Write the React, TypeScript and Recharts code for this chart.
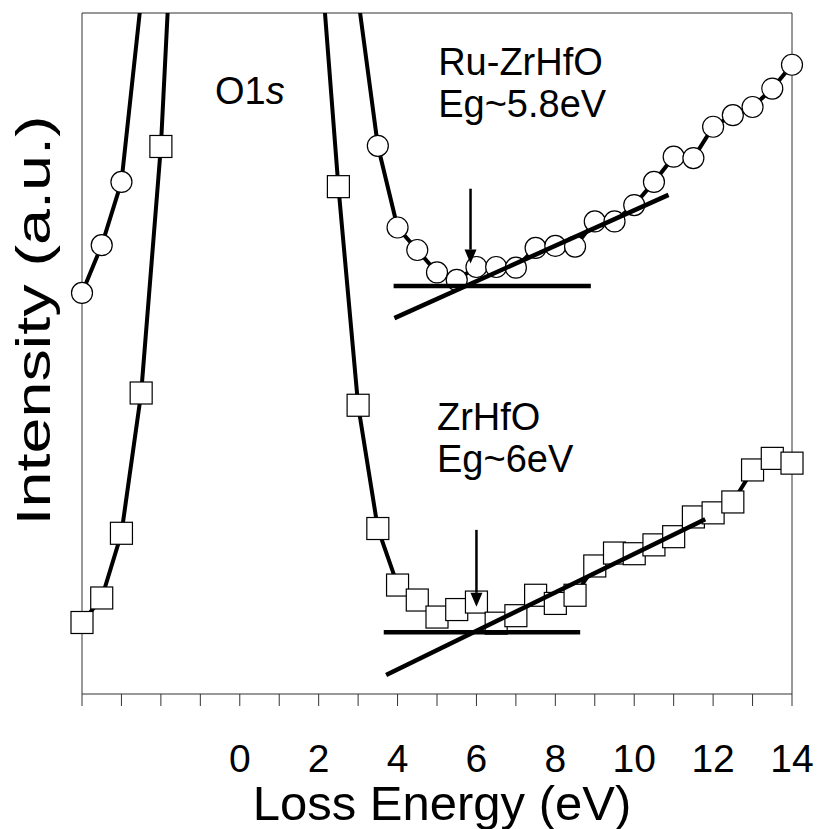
import React from "react";
import {
  ComposedChart,
  Line,
  Scatter,
  XAxis,
  YAxis,
  ReferenceLine,
  ReferenceDot,
  Label,
} from "recharts";

// loss energy (eV), one point every 0.5 eV
const energy = [
  -4, -3.5, -3, -2.5, -2, -1.5, -1, -0.5, 0, 0.5, 1, 1.5, 2, 2.5, 3, 3.5, 4,
  4.5, 5, 5.5, 6, 6.5, 7, 7.5, 8, 8.5, 9, 9.5, 10, 10.5, 11, 11.5, 12, 12.5,
  13, 13.5, 14,
];

// intensity (a.u.), the O1s peak runs far off the top of the frame
const ruZrHfO = [
  58.9, 65.9, 75.2, 102, 140, 220, 380, 600, 800, 720, 520, 330, 200, 130,
  102.2, 80.5, 68.5, 65.2, 61.9, 60.8, 62.7, 62.7, 62.6, 65.5, 65.8, 65.7,
  69.4, 69.4, 71.8, 75.2, 78.9, 78.7, 83.3, 85.0, 86.2, 88.9, 92.4,
];

const zrHfO = [
  10.5, 14.1, 23.6, 44.2, 80.4, 138, 300, 600, 900, 780, 480, 250, 112, 74.5,
  42.4, 24.3, 16.0, 13.8, 11.3, 12.4, 13.5, 10.4, 11.5, 14.5, 13.3, 14.5,
  18.8, 20.7, 20.6, 21.9, 23.1, 26.0, 26.6, 28.2, 32.9, 34.6, 33.9,
];

const xTicks = [-4, -3, -2, -1, 0, 1, 2, 3, 4, 5, 6, 7, 8, 9, 10, 11, 12, 13, 14];
const xTickLabels = [0, 2, 4, 6, 8, 10, 12, 14];

// band-gap construction lines
const ruFlat = [{ x: 3.9, y: 59.9 }, { x: 8.9, y: 59.9 }];
const ruSlope = [{ x: 3.92, y: 55.2 }, { x: 10.87, y: 73.3 }];
const ruArrow = [{ x: 5.85, y: 74.2 }, { x: 5.85, y: 63.2 }];
const zrFlat = [{ x: 3.65, y: 9.06 }, { x: 8.63, y: 9.06 }];
const zrSlope = [{ x: 3.71, y: 2.8 }, { x: 11.8, y: 25.65 }];
const zrArrow = [{ x: 6.0, y: 24.1 }, { x: 6.0, y: 12.8 }];

const notes = [
  { x: 5.03, y: 90.9, text: "Ru-ZrHfO" },
  { x: 5.03, y: 84.7, text: "Eg~5.8eV" },
  { x: 5.0, y: 38.8, text: "ZrHfO" },
  { x: 5.0, y: 32.6, text: "Eg~6eV" },
];
const o1sNote = { x: -0.63, y: 86.6 };

const font = "Arial, 'Liberation Sans', sans-serif";

const table = energy.map((e, i) => ({ e, ru: ruZrHfO[i], zr: zrHfO[i] }));
const ruMarks = table.filter((d) => d.ru <= 100).map((d) => ({ e: d.e, v: d.ru }));
const zrMarks = table.filter((d) => d.zr <= 100).map((d) => ({ e: d.e, v: d.zr }));

const circle = (p: any) => (
  <circle cx={p.cx} cy={p.cy} r={10.5} fill="#fff" stroke="#000" strokeWidth={1.2} />
);
const square = (p: any) => (
  <rect x={p.cx - 11} y={p.cy - 11} width={22} height={22} fill="#fff" stroke="#000" strokeWidth={1.2} />
);

const arrow = (p: any) => {
  const head = 14;
  return (
    <g>
      <line x1={p.x1} y1={p.y1} x2={p.x2} y2={p.y2 - head} stroke="#000" strokeWidth={2.5} />
      <polygon
        points={`${p.x2 - 6},${p.y2 - head} ${p.x2 + 6},${p.y2 - head} ${p.x2},${p.y2}`}
        fill="#000"
      />
    </g>
  );
};

const note = (text: string) => (p: any) => (
  <text x={p.cx} y={p.cy} fontSize={38} fontFamily={font} fill="#000">
    {text}
  </text>
);

const o1s = (p: any) => (
  <text x={p.cx} y={p.cy} fontSize={38} fontFamily={font} fill="#000">
    O1<tspan fontStyle="italic">s</tspan>
  </text>
);

const xLabel = (props: any) => {
  const vb = props.viewBox;
  return (
    <text
      x={vb.x + vb.width / 2 + 5}
      y={vb.y + 126}
      textAnchor="middle"
      fontSize={49}
      fontFamily={font}
      fill="#000"
    >
      Loss Energy (eV)
    </text>
  );
};

const yLabel = (props: any) => {
  const vb = props.viewBox;
  const x = vb.x + 42;
  const y = vb.y + vb.height / 2 - 33;
  return (
    <text
      x={x}
      y={y}
      transform={`rotate(-90 ${x} ${y})`}
      textAnchor="middle"
      fontSize={48}
      fontFamily={font}
      textLength={410}
      lengthAdjust="spacingAndGlyphs"
      fill="#000"
    >
      Intensity (a.u.)
    </text>
  );
};

export default function App() {
  return (
    <div style={{ position: "absolute", left: 0, top: 0 }}>
      <ComposedChart
        width={817}
        height={829}
        data={table}
        margin={{ top: 13, right: 25, bottom: 0, left: 8 }}
      >
        <XAxis
          dataKey="e"
          type="number"
          domain={[-4, 14]}
          ticks={xTicks}
          interval={0}
          tickFormatter={(v) => (xTickLabels.includes(v) ? String(v) : "")}
          tick={{ fontSize: 39, fill: "#000", fontFamily: font }}
          tickSize={12}
          tickMargin={38}
          axisLine={{ stroke: "#333" }}
          tickLine={{ stroke: "#333" }}
          height={135}
        >
          <Label content={xLabel} />
        </XAxis>
        <YAxis
          type="number"
          domain={[0, 100]}
          allowDataOverflow
          tick={false}
          tickLine={false}
          axisLine={{ stroke: "#333" }}
          width={74}
        >
          <Label content={yLabel} />
        </YAxis>
        <YAxis yAxisId="m" type="number" domain={[0, 100]} hide />

        <ReferenceLine y={100} stroke="#333" />
        <ReferenceLine x={14} stroke="#333" />

        <Line
          dataKey="ru"
          type="linear"
          stroke="#000"
          strokeWidth={4}
          dot={false}
          activeDot={false}
          isAnimationActive={false}
        />
        <Line
          dataKey="zr"
          type="linear"
          stroke="#000"
          strokeWidth={4}
          dot={false}
          activeDot={false}
          isAnimationActive={false}
        />
        <Scatter data={ruMarks} dataKey="v" yAxisId="m" shape={circle} isAnimationActive={false} />
        <Scatter data={zrMarks} dataKey="v" yAxisId="m" shape={square} isAnimationActive={false} />

        <ReferenceLine segment={ruFlat} stroke="#000" strokeWidth={4.5} zIndex={1000} />
        <ReferenceLine segment={ruSlope} stroke="#000" strokeWidth={4.5} zIndex={1000} />
        <ReferenceLine segment={zrFlat} stroke="#000" strokeWidth={4.5} zIndex={1000} />
        <ReferenceLine segment={zrSlope} stroke="#000" strokeWidth={4.5} zIndex={1000} />
        <ReferenceLine segment={ruArrow} shape={arrow} zIndex={1000} />
        <ReferenceLine segment={zrArrow} shape={arrow} zIndex={1000} />

        <ReferenceDot x={o1sNote.x} y={o1sNote.y} r={0} shape={o1s} zIndex={1000} />
        {notes.map((n) => (
          <ReferenceDot key={n.text} x={n.x} y={n.y} r={0} shape={note(n.text)} zIndex={1000} />
        ))}
      </ComposedChart>
    </div>
  );
}
